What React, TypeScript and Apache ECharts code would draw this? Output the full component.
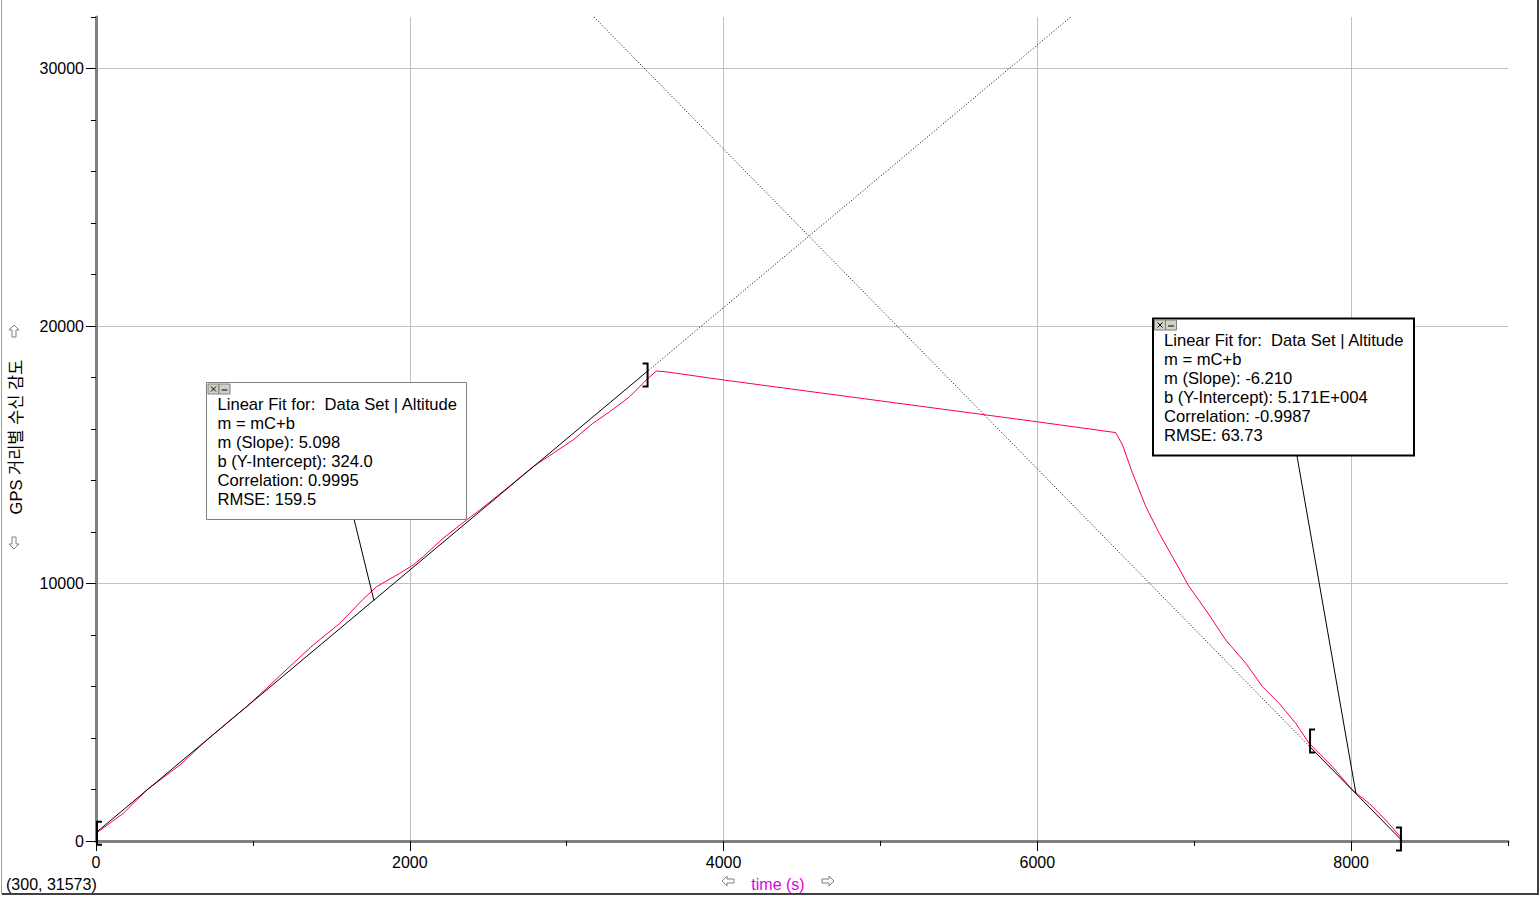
import React, { useEffect, useRef } from 'react';
import * as echarts from 'echarts';

const xMin = 0;
const xMax = 9000;
const yMin = 0;
const yMax = 32000;
const xLabelValues = [0, 2000, 4000, 6000, 8000];
const yLabelValues = [0, 10000, 20000, 30000];

// time (s), altitude
const altitude: number[][] = [
  [0, 300], [174, 1076], [323, 1980], [535, 2951], [683, 3793], [832, 4570],
  [960, 5215], [1087, 5929], [1257, 6900], [1384, 7611], [1554, 8452], [1702, 9385],
  [1788, 9875], [1936, 10395], [2021, 10717], [2085, 11040], [2212, 11754], [2361, 12465],
  [2446, 12853], [2552, 13370], [2658, 13890], [2785, 14534], [2913, 15055], [3040, 15571],
  [3167, 16219], [3274, 16670], [3401, 17252], [3507, 17900], [3571, 18250], [3635, 18220],
  [4004, 17900], [5997, 16282], [6500, 15860], [6543, 15377], [6607, 14278], [6692, 12981],
  [6777, 11946], [6861, 11040], [6968, 9875], [7074, 8970], [7201, 7805], [7329, 6900],
  [7435, 5991], [7541, 5345], [7647, 4570], [7732, 3793], [7881, 2885], [8008, 1980],
  [8114, 1464], [8220, 815], [8324, 97],
];

const fit1Solid = [[0, 324], [3522, 18279]];
const fit1Dotted = [[3522, 18279], [6213, 32000]];
const fit2Dotted = [[3174, 32000], [7732, 3694]];
const fit2Solid = [[7732, 3694], [8324, 18]];

// x, y, side (-1 = "[", 1 = "]")
const brackets = [[0, 300, -1], [3522, 18095, 1], [7732, 3883, -1], [8324, 78, 1]];

const fitBox1Lines = [
  'Linear Fit for:\u00a0 Data Set | Altitude',
  'm = mC+b',
  'm (Slope): 5.098',
  'b (Y-Intercept): 324.0',
  'Correlation: 0.9995',
  'RMSE: 159.5',
];
const fitBox2Lines = [
  'Linear Fit for:\u00a0 Data Set | Altitude',
  'm = mC+b',
  'm (Slope): -6.210',
  'b (Y-Intercept): 5.171E+004',
  'Correlation: -0.9987',
  'RMSE: 63.73',
];
const leader1Anchor = [1771, 9352];
const leader2Anchor = [8031, 1837];

const yAxisName = 'GPS 거리별 수신 감도';
const xAxisName = 'time (s)';
const cursorText = '(300, 31573)';

const FONT = "'Liberation Sans', Arial, sans-serif";

function arrow(cx: number, cy: number, dir: 'up' | 'down' | 'left' | 'right') {
  // base shape pointing up, 10 wide x 12 tall
  const base = [[0, -6], [5, -1], [2, -1], [2, 6], [-2, 6], [-2, -1], [-5, -1]];
  const pts = base.map(([x, y]) => {
    if (dir === 'up') return [cx + x, cy + y];
    if (dir === 'down') return [cx + x, cy - y];
    if (dir === 'left') return [cx + y, cy + x];
    return [cx - y, cy + x];
  });
  return {
    type: 'polygon', z: 50,
    shape: { points: pts },
    style: { fill: '#fff', stroke: '#808080', lineWidth: 1 },
  };
}

function makeBox(left: number, top: number, w: number, h: number, lines: string[], borderColor: string, borderWidth: number, anchorPx: number[], leaderFrom: number[]) {
  const els: any[] = [];
  els.push({
    type: 'line', z: 99,
    shape: { x1: leaderFrom[0], y1: leaderFrom[1], x2: anchorPx[0], y2: anchorPx[1] },
    style: { stroke: '#000', lineWidth: 1 },
  });
  els.push({
    type: 'rect', z: 100,
    shape: { x: left, y: top, width: w, height: h },
    style: { fill: '#fff', stroke: borderColor, lineWidth: borderWidth },
  });
  els.push({
    type: 'rect', z: 101,
    shape: { x: left + 1.5, y: top + 1.5, width: 11, height: 10 },
    style: { fill: '#d4d0c8', stroke: '#808080', lineWidth: 1 },
  });
  els.push({
    type: 'rect', z: 101,
    shape: { x: left + 12.5, y: top + 1.5, width: 11, height: 10 },
    style: { fill: '#d4d0c8', stroke: '#808080', lineWidth: 1 },
  });
  els.push({
    type: 'line', z: 102,
    shape: { x1: left + 4.5, y1: top + 4, x2: left + 9.5, y2: top + 9 },
    style: { stroke: '#000', lineWidth: 1 },
  });
  els.push({
    type: 'line', z: 102,
    shape: { x1: left + 9.5, y1: top + 4, x2: left + 4.5, y2: top + 9 },
    style: { stroke: '#000', lineWidth: 1 },
  });
  els.push({
    type: 'line', z: 102,
    shape: { x1: left + 15, y1: top + 7.5, x2: left + 21, y2: top + 7.5 },
    style: { stroke: '#000', lineWidth: 1 },
  });
  lines.forEach((t, i) => {
    els.push({
      type: 'text', z: 102, x: left + 11, y: top + 22 + i * 19,
      style: { text: t, fontSize: 16.6, fontFamily: FONT, fill: '#000', align: 'left', verticalAlign: 'middle' },
    });
  });
  return els;
}

export default function App() {
  const ref = useRef<HTMLDivElement>(null);
  useEffect(() => {
    if (!ref.current) return;
    const chart = echarts.init(ref.current, undefined, { renderer: 'svg' });
    const axisLabelStyle = { color: '#000', fontSize: 16, fontFamily: FONT };
    const option: any = {
      animation: false,
      backgroundColor: '#fff',
      grid: { left: 96, right: 32, top: 17, bottom: 56, containLabel: false, outerBoundsMode: 'none' },
      xAxis: [
        {
          type: 'value', min: xMin, max: xMax, interval: 1000, position: 'bottom',
          axisLine: { show: true, lineStyle: { color: '#808080', width: 3 } },
          axisTick: { show: true, length: 10, lineStyle: { color: '#000', width: 1 }, customValues: xLabelValues },
          axisLabel: { show: true, margin: 13, customValues: xLabelValues, formatter: (v: number) => String(v), ...axisLabelStyle },
          splitLine: { show: true, lineStyle: { color: '#c0c0c0', width: 1 } },
        },
        {
          type: 'value', min: xMin, max: xMax, interval: 1000, position: 'bottom', offset: 0,
          axisLine: { show: false },
          axisTick: { show: true, length: 5, lineStyle: { color: '#000', width: 1 } },
          axisLabel: { show: false },
          splitLine: { show: false },
        },
      ],
      yAxis: [
        {
          type: 'value', min: yMin, max: yMax, interval: 2000, position: 'left',
          axisLine: { show: true, lineStyle: { color: '#808080', width: 3 } },
          axisTick: { show: true, length: 10, lineStyle: { color: '#000', width: 1 }, customValues: yLabelValues },
          axisLabel: { show: true, margin: 12, customValues: yLabelValues, formatter: (v: number) => String(v), ...axisLabelStyle },
          splitLine: { show: true, lineStyle: { color: '#c0c0c0', width: 1 } },
        },
        {
          type: 'value', min: yMin, max: yMax, interval: 2000, position: 'left', offset: 0,
          axisLine: { show: false },
          axisTick: { show: true, length: 5, lineStyle: { color: '#000', width: 1 } },
          axisLabel: { show: false },
          splitLine: { show: false },
        },
      ],
      series: [
        {
          type: 'line', data: altitude, showSymbol: false, symbol: 'none',
          lineStyle: { color: '#ff0040', width: 1 }, z: 3, silent: true,
        },
        {
          type: 'line', data: fit1Dotted, showSymbol: false, symbol: 'none',
          lineStyle: { color: '#000', width: 1, type: [1, 2] }, z: 4, silent: true,
        },
        {
          type: 'line', data: fit2Dotted, showSymbol: false, symbol: 'none',
          lineStyle: { color: '#000', width: 1, type: [1, 2] }, z: 4, silent: true,
        },
        {
          type: 'line', data: fit1Solid, showSymbol: false, symbol: 'none',
          lineStyle: { color: '#000', width: 1 }, z: 5, silent: true,
        },
        {
          type: 'line', data: fit2Solid, showSymbol: false, symbol: 'none',
          lineStyle: { color: '#000', width: 1 }, z: 5, silent: true,
        },
        {
          type: 'custom', data: brackets, clip: false, z: 6, silent: true,
          renderItem: (params: any, api: any) => {
            const p = api.coord([api.value(0), api.value(1)]);
            const side = api.value(2);
            const x = p[0] + (side < 0 ? 1 : -1);
            const y = p[1];
            const d = -side * 5;
            return {
              type: 'polyline',
              shape: { points: [[x + d, y - 11.5], [x, y - 11.5], [x, y + 11.5], [x + d, y + 11.5]] },
              style: { stroke: '#000', lineWidth: 2, fill: null },
            };
          },
        },
      ],
    };
    chart.setOption(option);

    const a1 = chart.convertToPixel({ gridIndex: 0 }, leader1Anchor) as number[];
    const a2 = chart.convertToPixel({ gridIndex: 0 }, leader2Anchor) as number[];

    const graphics: any[] = [
      { type: 'line', z: 50, shape: { x1: 1.5, y1: 0, x2: 1.5, y2: 894 }, style: { stroke: '#a0a0a0', lineWidth: 1 } },
      { type: 'line', z: 50, shape: { x1: 1538, y1: 0, x2: 1538, y2: 895 }, style: { stroke: '#404040', lineWidth: 2 } },
      { type: 'line', z: 50, shape: { x1: 2, y1: 894, x2: 1539, y2: 894 }, style: { stroke: '#404040', lineWidth: 2 } },
      {
        type: 'text', z: 50, x: 16, y: 437, rotation: Math.PI / 2,
        style: { text: yAxisName, fontSize: 16.5, fontFamily: "'Liberation Sans', 'Noto Sans CJK KR', sans-serif", fill: '#000', align: 'center', verticalAlign: 'middle' },
      },
      arrow(14, 331, 'up'),
      arrow(14, 543, 'down'),
      {
        type: 'text', z: 50, x: 778, y: 884,
        style: { text: xAxisName, fontSize: 16, fontFamily: FONT, fill: '#e000e0', align: 'center', verticalAlign: 'middle' },
      },
      arrow(728, 881, 'left'),
      arrow(828, 881, 'right'),
      {
        type: 'text', z: 50, x: 6, y: 884,
        style: { text: cursorText, fontSize: 16, fontFamily: FONT, fill: '#000', align: 'left', verticalAlign: 'middle' },
      },
      ...makeBox(206.5, 382.5, 260, 137, fitBox1Lines, '#808080', 1, a1, [354, 519]),
      ...makeBox(1153, 318.5, 261, 137, fitBox2Lines, '#000', 2, a2, [1297, 456]),
    ];
    chart.setOption({ graphic: graphics });

    return () => chart.dispose();
  }, []);
  return (
    <div
      ref={ref}
      style={{ position: 'fixed', left: 0, top: 0, width: 1540, height: 897, background: '#fff' }}
    />
  );
}
